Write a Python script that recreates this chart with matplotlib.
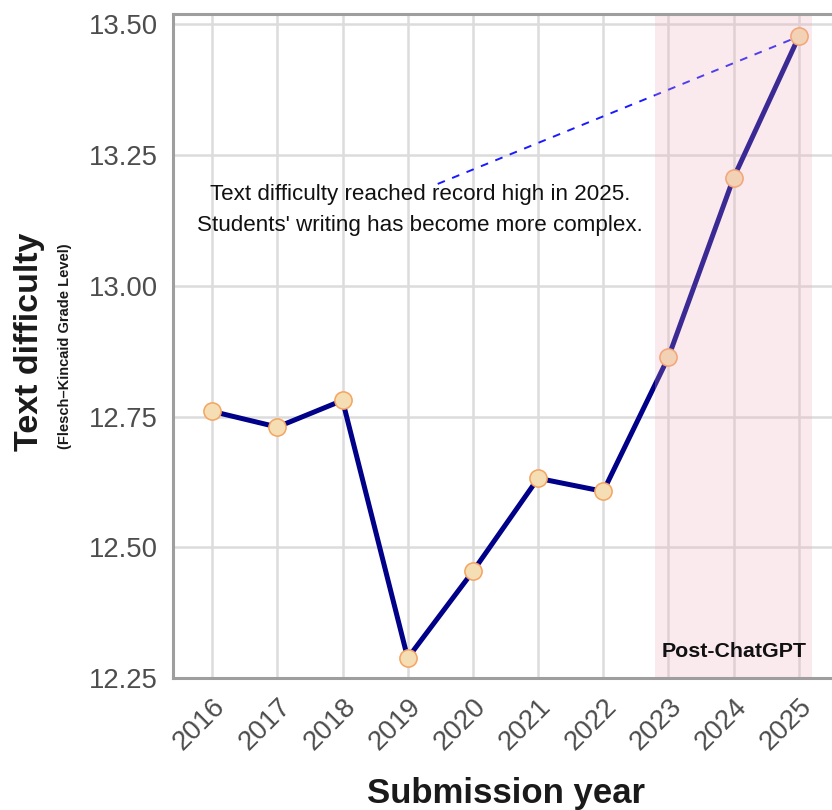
import matplotlib
matplotlib.use("Agg")
import matplotlib.pyplot as plt

plt.rcParams['font.family'] = ['Liberation Sans', 'DejaVu Sans']

# Mean Flesch-Kincaid grade level by submission year
years = [2016, 2017, 2018, 2019, 2020, 2021, 2022, 2023, 2024, 2025]
difficulty = [12.760, 12.730, 12.781, 12.288, 12.454, 12.632, 12.607, 12.864, 13.207, 13.477]
y_ticks = [12.25, 12.50, 12.75, 13.00, 13.25, 13.50]
y_tick_labels = ["12.25", "12.50", "12.75", "13.00", "13.25", "13.50"]

post_start, post_end = 2022.8, 2025.2
callout_anchor = (2019.46, 13.195)
callout_text = ("Text difficulty reached record high in 2025.\n"
                "Students' writing has become more complex.")

fig = plt.figure(figsize=(8.32, 8.10), dpi=100)
ax = fig.add_axes([173 / 832, 132 / 810, 665 / 832, 664 / 810])

ax.set_xlim(2015.4, 2025.6)
ax.set_ylim(12.25, 13.52)

# grid
ax.set_xticks(years)
ax.set_xticklabels([str(y) for y in years])
ax.set_yticks(y_ticks)
ax.set_yticklabels(y_tick_labels)
ax.grid(True, color='#dcdcdc', linewidth=1.8, zorder=0)
ax.set_axisbelow(True)

for side in ['left', 'bottom', 'top']:
    ax.spines[side].set_color('#9e9e9e')
    ax.spines[side].set_linewidth(2.2)
    ax.spines[side].set_zorder(6)
ax.spines['right'].set_visible(False)

ax.tick_params(axis='both', length=0, labelsize=19.8, labelcolor='#4d4d4d')
ax.tick_params(axis='y', pad=11)
ax.tick_params(axis='x', pad=11)
for lab in ax.get_xticklabels():
    lab.set_rotation(45)
    lab.set_ha('right')
    lab.set_va('top')
    lab.set_rotation_mode('anchor')

# callout connector
ax.plot([callout_anchor[0], years[-1] - 0.08],
        [callout_anchor[1], difficulty[-1] - 0.004],
        color='#1a1aff', linewidth=1.4, linestyle=(0, (4, 4)), zorder=2)

# trend line and points
ax.plot(years, difficulty, color='#000088', linewidth=3.6, zorder=3,
        solid_capstyle='round')
ax.plot(years, difficulty, linestyle='none', marker='o', markersize=12.4,
        markerfacecolor='#F5DEB3', markeredgecolor='#F4A460',
        markeredgewidth=1.1, zorder=4)

# post-ChatGPT period
ax.axvspan(post_start, post_end, color='#efabbb', alpha=0.25, linewidth=0,
           zorder=5)
ax.text((post_start + post_end) / 2, 12.30, "Post-ChatGPT", ha='center',
        va='center', fontsize=15.4, fontweight='bold', color='#111111',
        zorder=7)

ax.text(2019.19, 13.145, callout_text, ha='center', va='center',
        fontsize=16.1, color='#111111', linespacing=1.6, zorder=7)

# axis titles
fig.text(506 / 832, 1 - 803 / 810, "Submission year", ha='center',
         va='baseline', fontsize=25, fontweight='bold', color='#1a1a1a')
fig.text(30 / 832, 1 - 342 / 810, "Text difficulty", rotation=90,
         ha='center', va='center', fontsize=24.5, fontweight='bold',
         color='#1a1a1a')
fig.text(65 / 832, 1 - 346 / 810, "(Flesch\u2013Kincaid Grade Level)",
         rotation=90, ha='center', va='center', fontsize=10.5,
         fontweight='bold', color='#1a1a1a')

fig.savefig("out.png", dpi=100)
